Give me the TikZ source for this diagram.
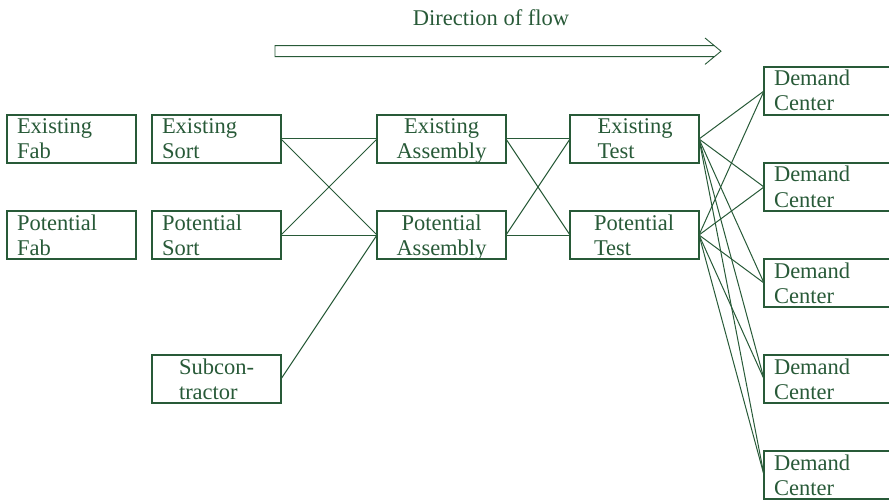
\documentclass[tikz,border=0pt]{standalone}
\usepackage{fontspec}
\setmainfont{Liberation Serif}
\usepackage{tikz}
\usetikzlibrary{positioning}
\usepackage{xcolor}
\definecolor{flowgreen}{RGB}{40,90,56}

\begin{document}
\begin{tikzpicture}[%
    x=1pt,
    y=-1pt,
    node distance=48pt and 16pt,
    every node/.style={%
      text=flowgreen,
      font=\fontsize{22.5}{25}\selectfont
    },
    stage/.style={%
      draw=flowgreen,
      line width=1.1pt,
      minimum height=48pt,
      outer sep=0pt,
      inner ysep=0pt,
      inner xsep=10pt,
      text width=109pt,
      text height=19pt,
      text depth=29pt,
      align=left
    },
    link/.style={%
      draw=flowgreen,
      line width=1pt
    }
  ]
    \clip (0,0) rectangle (889,500);

    % direction of flow
    \node[anchor=base] (flowlabel) at (491,26) {Direction of flow};
    \draw[flowgreen, line width=0.9pt]
      (714,45.7) -- (275,45.7) -- (275,56.7) -- (714,56.7)
      (705,38) -- (721,51.2) -- (705,64.4);

    \node[stage] (efab) at (71.5,139)                                 {Existing\\Fab};
    \node[stage] (pfab) [below=of efab]                               {Potential\\Fab};
    \node[stage] (esort) [right=of efab]                              {Existing\\Sort};
    \node[stage] (psort) [below=of esort]                             {Potential\\Sort};
    \node[stage, inner xsep=27pt, text width=75pt] (sub) [below=96pt of psort] {Subcon-\\tractor};
    \node[stage, align=center] (eassy) [right=96pt of esort]          {Existing\\Assembly};
    \node[stage, align=center] (passy) [below=of eassy]               {Potential\\Assembly};
    \node[stage, inner xsep=27.5pt, text width=74pt] (etest) [right=64pt of eassy] {Existing\\Test};
    \node[stage, inner xsep=24pt, text width=81pt] (ptest) [below=of etest] {Potential\\Test};

    \node[stage] (dc1) [right=65pt of etest, yshift=48pt]             {Demand\\Center};
    \node[stage] (dc2) [below=of dc1]                                 {Demand\\Center};
    \node[stage] (dc3) [below=of dc2]                                 {Demand\\Center};
    \node[stage] (dc4) [below=of dc3]                                 {Demand\\Center};
    \node[stage] (dc5) [below=of dc4]                                 {Demand\\Center};

    \path[link] (esort.east) edge (eassy.west)
                (esort.east) edge (passy.west)
                (psort.east) edge (eassy.west)
                (psort.east) edge (passy.west)
                (sub.east)   edge (passy.west)
                (eassy.east) edge (etest.west)
                (eassy.east) edge (ptest.west)
                (passy.east) edge (etest.west)
                (passy.east) edge (ptest.west)
                (etest.east) edge (dc1.west)
                (etest.east) edge (dc2.west)
                (etest.east) edge (dc3.west)
                (etest.east) edge (dc4.west)
                (etest.east) edge (dc5.west)
                (ptest.east) edge (dc1.west)
                (ptest.east) edge (dc2.west)
                (ptest.east) edge (dc3.west)
                (ptest.east) edge (dc4.west)
                (ptest.east) edge (dc5.west);
  \end{tikzpicture}
\end{document}
